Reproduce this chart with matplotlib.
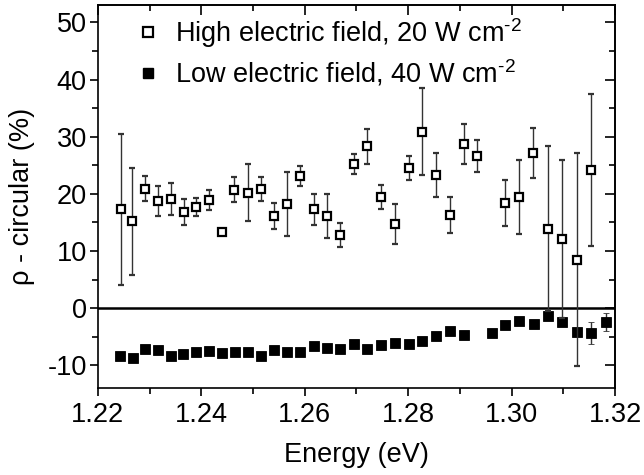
import matplotlib
matplotlib.use("Agg")
import matplotlib.pyplot as plt
from matplotlib.lines import Line2D
from matplotlib.ticker import MultipleLocator

plt.rcParams['font.family'] = ['Liberation Sans', 'DejaVu Sans']
plt.rcParams['mathtext.fontset'] = 'custom'
plt.rcParams['mathtext.rm'] = 'Liberation Sans'
plt.rcParams['axes.unicode_minus'] = False

# high electric field, 20 W cm-2 (open squares)
e_high = [1.2244, 1.2266, 1.2292, 1.2316, 1.2341, 1.2366, 1.2390, 1.2415, 1.2440,
          1.2464, 1.2490, 1.2515, 1.2540, 1.2566, 1.2591, 1.2618, 1.2644, 1.2669,
          1.2695, 1.2720, 1.2747, 1.2774, 1.2801, 1.2826, 1.2854, 1.2880, 1.2907,
          1.2933, 1.2988, 1.3015, 1.3042, 1.3070, 1.3097, 1.3126, 1.3154]
rho_high = [17.3, 15.2, 20.9, 18.8, 19.1, 16.8, 17.7, 18.9, 13.3,
            20.7, 20.2, 20.9, 16.1, 18.2, 23.1, 17.3, 16.1, 12.8,
            25.2, 28.3, 19.5, 14.7, 24.6, 30.9, 23.3, 16.3, 28.8,
            26.6, 18.4, 19.4, 27.2, 13.9, 12.1, 8.5, 24.1]
err_high = [13.2, 9.4, 2.2, 2.6, 2.8, 2.3, 1.5, 1.8, 0.0,
            2.2, 5.0, 2.1, 2.3, 5.6, 1.8, 2.7, 3.9, 2.1,
            1.8, 3.0, 2.1, 3.5, 2.1, 7.6, 3.8, 3.2, 3.5,
            2.8, 4.1, 6.5, 4.4, 14.4, 13.8, 18.7, 13.3]

# low electric field, 40 W cm-2 (filled squares)
e_low = [1.2243, 1.2267, 1.2292, 1.2316, 1.2341, 1.2365, 1.2390, 1.2415, 1.2440,
         1.2465, 1.2490, 1.2515, 1.2540, 1.2566, 1.2591, 1.2617, 1.2643, 1.2669,
         1.2695, 1.2720, 1.2747, 1.2774, 1.2801, 1.2827, 1.2854, 1.2880, 1.2908,
         1.2962, 1.2988, 1.3015, 1.3043, 1.3070, 1.3097, 1.3126, 1.3154, 1.3182]
rho_low = [-8.3, -8.8, -7.2, -7.3, -8.3, -8.0, -7.7, -7.5, -7.9,
           -7.6, -7.6, -8.3, -7.4, -7.7, -7.7, -6.6, -7.0, -7.1,
           -6.3, -7.2, -6.5, -6.1, -6.3, -5.7, -4.8, -4.0, -4.7,
           -4.4, -3.0, -2.2, -2.7, -1.3, -2.4, -4.1, -4.4, -2.4]
err_low = [0, 0, 0, 0, 0, 0, 0, 0, 0,
           0, 0, 0, 0, 0, 0, 0, 0, 0,
           0, 0, 0, 0, 0, 0, 0, 0, 0,
           0, 0, 0, 0, 0, 0, 0, 1.9, 1.55]

FS = 19.5

fig = plt.figure(figsize=(6.44, 4.75), dpi=100)
ax = fig.add_axes([0.152, 0.183, 0.803, 0.806])

ax.axhline(0, color='k', lw=1.8, zorder=1)

ax.errorbar(e_high, rho_high, yerr=err_high, fmt='s', ms=6.2, mfc='white', mec='k',
            mew=1.6, ecolor='#333333', elinewidth=1.0, capsize=2.5, capthick=1.0, zorder=3)
ax.errorbar(e_low, rho_low, yerr=err_low, fmt='s', ms=7, mfc='k', mec='k',
            mew=0.6, ecolor='#333333', elinewidth=1.0, capsize=2.5, capthick=1.0, zorder=2)

ax.set_xlim(1.22, 1.32)
ax.set_ylim(-14, 53)
ax.xaxis.set_minor_locator(MultipleLocator(0.01))
ax.yaxis.set_major_locator(MultipleLocator(10))
ax.yaxis.set_minor_locator(MultipleLocator(5))
ax.set_xticks([1.22, 1.24, 1.26, 1.28, 1.30, 1.32])
ax.set_xticklabels(['1.22', '1.24', '1.26', '1.28', '1.30', '1.32'])

ax.tick_params(which='both', direction='out', labelsize=FS, width=1.2)
ax.tick_params(which='major', length=6, pad=2)
ax.tick_params(axis='x', which='major', pad=4)
ax.tick_params(which='minor', length=4)
for s in ax.spines.values():
    s.set_linewidth(1.2)

top = ax.secondary_xaxis('top')
top.xaxis.set_major_locator(MultipleLocator(0.02))
top.xaxis.set_minor_locator(MultipleLocator(0.01))
top.tick_params(which='both', direction='in', labeltop=False, width=1.2)
top.tick_params(which='major', length=7)
top.tick_params(which='minor', length=4)
right = ax.secondary_yaxis('right')
right.yaxis.set_major_locator(MultipleLocator(10))
right.yaxis.set_minor_locator(MultipleLocator(5))
right.tick_params(which='both', direction='in', labelright=False, width=1.2)
right.tick_params(which='major', length=7)
right.tick_params(which='minor', length=4)
for sec in (top, right):
    for s in sec.spines.values():
        s.set_linewidth(1.2)

ax.set_xlabel('Energy (eV)', fontsize=FS, labelpad=10)
ax.set_ylabel('ρ - circular (%)', fontsize=FS, labelpad=9)

handles = [
    Line2D([0], [0], marker='s', ls='none', ms=6.8, mfc='white', mec='k', mew=1.6,
           label=r'High electric field, 20 W cm$^{\text{-2}}$'),
    Line2D([0], [0], marker='s', ls='none', ms=7.5, mfc='k', mec='k',
           label=r'Low electric field, 40 W cm$^{\text{-2}}$'),
]
ax.legend(handles=handles, loc='upper left', frameon=False, fontsize=FS,
          handlelength=1.0, handletextpad=0.5, labelspacing=0.3,
          bbox_to_anchor=(0.05, 1.0), borderaxespad=0.0)

fig.savefig('out.png', dpi=100)
